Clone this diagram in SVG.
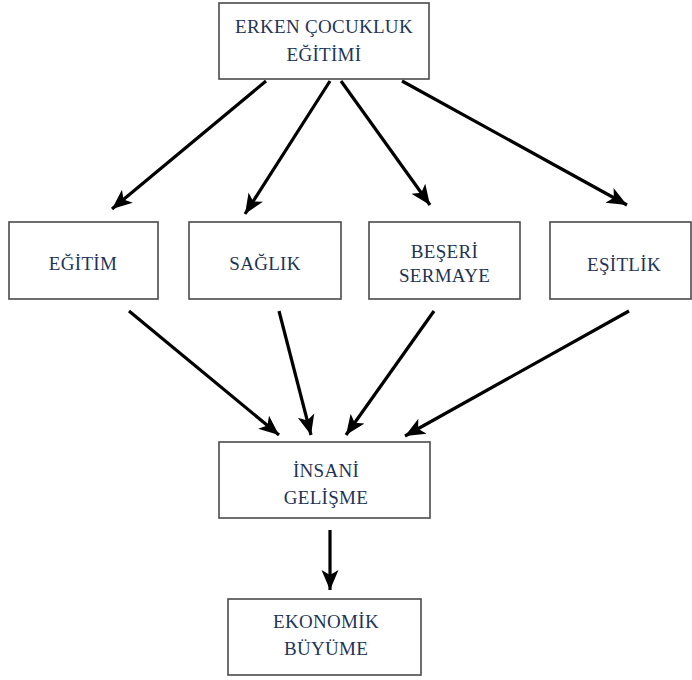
<svg xmlns="http://www.w3.org/2000/svg" width="692" height="680" viewBox="0 0 692 680">
<style>
.box{fill:#fff;stroke:#4a4a4a;stroke-width:1.6}
.t{font-family:"Liberation Serif","Times New Roman",serif;font-size:19px;fill:#1f3456;text-anchor:middle;letter-spacing:0.3px}
.c{stroke:#000;stroke-width:3.2;fill:none;marker-end:url(#ah)}
</style>
<defs>
<marker id="ah" markerUnits="userSpaceOnUse" markerWidth="22" markerHeight="20" viewBox="0 0 22 20" refX="20" refY="10" orient="auto">
<path d="M0,1.5 L20,10 L0,18.5 L5,10 z" fill="#000"/>
</marker>
</defs>
<rect width="692" height="680" fill="#fff"/>
<g id="connectors">
<line class="c" x1="266" y1="81" x2="112" y2="209"/>
<line class="c" x1="330" y1="81" x2="245" y2="214"/>
<line class="c" x1="341" y1="81" x2="430" y2="205"/>
<line class="c" x1="402" y1="81" x2="627" y2="205"/>
<line class="c" x1="129" y1="311" x2="279" y2="435"/>
<line class="c" x1="279" y1="311" x2="311" y2="435"/>
<line class="c" x1="434" y1="311" x2="346" y2="435"/>
<line class="c" x1="629" y1="311" x2="405" y2="436"/>
<line class="c" x1="330" y1="530" x2="330" y2="590"/>
</g>
<g id="erken">
<rect class="box" x="219" y="3" width="210" height="76"/>
<text class="t" x="324" y="33">ERKEN ÇOCUKLUK</text>
<text class="t" x="324" y="61">EĞİTİMİ</text>
</g>
<g id="egitim">
<rect class="box" x="9" y="222" width="149" height="77"/>
<text class="t" x="83" y="270">EĞİTİM</text>
</g>
<g id="saglik">
<rect class="box" x="189" y="222" width="152" height="77"/>
<text class="t" x="265" y="270">SAĞLIK</text>
</g>
<g id="beseri">
<rect class="box" x="369" y="222" width="151" height="77"/>
<text class="t" x="444.5" y="258">BEŞERİ</text>
<text class="t" x="444.5" y="282">SERMAYE</text>
</g>
<g id="esitlik">
<rect class="box" x="550" y="222" width="141" height="77"/>
<text class="t" x="624" y="271">EŞİTLİK</text>
</g>
<g id="insani">
<rect class="box" x="219" y="442" width="211" height="76"/>
<text class="t" x="326" y="477">İNSANİ</text>
<text class="t" x="326" y="504">GELİŞME</text>
</g>
<g id="ekonomik">
<rect class="box" x="228" y="599" width="193" height="76"/>
<text class="t" x="326" y="628">EKONOMİK</text>
<text class="t" x="326" y="655">BÜYÜME</text>
</g>
</svg>
